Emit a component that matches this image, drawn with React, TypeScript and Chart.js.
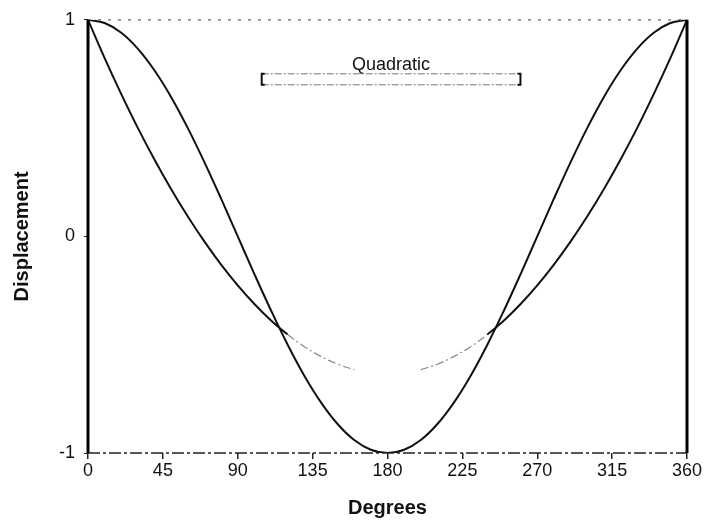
import React, { useEffect, useRef } from "react";
import { Chart, registerables } from "chart.js";

Chart.register(...registerables);

// ---- Data ----
const degrees = [
  0, 10, 20, 30, 40, 50, 60, 70, 80, 90, 100, 110, 120, 130, 140, 150, 160, 170, 180,
  190, 200, 210, 220, 230, 240, 250, 260, 270, 280, 290, 300, 310, 320, 330, 340, 350, 360,
];
const cosineValues = [
  1, 0.985, 0.94, 0.866, 0.766, 0.643, 0.5, 0.342, 0.174, 0, -0.174, -0.342, -0.5, -0.643, -0.766, -0.866, -0.94, -0.985, -1,
  -0.985, -0.94, -0.866, -0.766, -0.643, -0.5, -0.342, -0.174, 0, 0.174, 0.342, 0.5, 0.643, 0.766, 0.866, 0.94, 0.985, 1,
];
const quadraticValues: (number | null)[] = [
  1, 0.823, 0.657, 0.5, 0.354, 0.218, 0.092, -0.024, -0.13, -0.226, -0.312, -0.388, -0.453, -0.509, -0.554, -0.59, -0.615, null, null,
  null, -0.615, -0.59, -0.554, -0.509, -0.453, -0.388, -0.312, -0.226, -0.13, -0.024, 0.092, 0.218, 0.354, 0.5, 0.657, 0.823, 1,
];
const xTicks = [0, 45, 90, 135, 180, 225, 270, 315, 360];
const yTicks = [-1, 0, 1];
const legendLabel = "Quadratic";
const xTitle = "Degrees";
const yTitle = "Displacement";

const FONT = '"Liberation Sans", Arial, Helvetica, sans-serif';

const framePlugin = {
  id: "frame",
  afterDatasetsDraw(chart: any) {
    const { ctx, chartArea } = chart;
    const { left, right, top, bottom } = chartArea;
    const w = right - left;
    ctx.save();
    // top dotted border
    ctx.strokeStyle = "#666";
    ctx.lineWidth = 1.2;
    ctx.setLineDash([3, 7]);
    ctx.beginPath();
    ctx.moveTo(left, top);
    ctx.lineTo(right, top);
    ctx.stroke();
    // bottom dash-dot axis
    ctx.strokeStyle = "#222";
    ctx.lineWidth = 1.5;
    ctx.setLineDash([12, 3, 3, 3]);
    ctx.beginPath();
    ctx.moveTo(left, bottom);
    ctx.lineTo(right, bottom);
    ctx.stroke();
    // left / right thick borders
    ctx.setLineDash([]);
    ctx.strokeStyle = "#000";
    ctx.lineWidth = 3;
    ctx.beginPath();
    ctx.moveTo(left, top);
    ctx.lineTo(left, bottom);
    ctx.moveTo(right, top);
    ctx.lineTo(right, bottom);
    ctx.stroke();

    // legend-like label box
    const x0 = left + 0.29 * w;
    const x1 = left + 0.722 * w;
    const y0 = top + 54;
    const y1 = top + 65;
    ctx.fillStyle = "#111";
    ctx.font = `18px ${FONT}`;
    ctx.textAlign = "center";
    ctx.textBaseline = "middle";
    ctx.fillText(legendLabel, (x0 + x1) / 2, top + 45);
    ctx.strokeStyle = "#777";
    ctx.lineWidth = 1;
    ctx.setLineDash([7, 2, 2, 2]);
    ctx.beginPath();
    ctx.moveTo(x0, y0);
    ctx.lineTo(x1, y0);
    ctx.moveTo(x0, y1);
    ctx.lineTo(x1, y1);
    ctx.stroke();
    ctx.setLineDash([]);
    ctx.strokeStyle = "#111";
    ctx.lineWidth = 2;
    ctx.beginPath();
    ctx.moveTo(x0 + 3, y0);
    ctx.lineTo(x0, y0);
    ctx.lineTo(x0, y1);
    ctx.lineTo(x0 + 3, y1);
    ctx.moveTo(x1 - 3, y0);
    ctx.lineTo(x1, y0);
    ctx.lineTo(x1, y1);
    ctx.lineTo(x1 - 3, y1);
    ctx.stroke();
    ctx.restore();
  },
};

export default function App() {
  const canvasRef = useRef<HTMLCanvasElement | null>(null);

  useEffect(() => {
    document.body.style.margin = "0";
    const canvas = canvasRef.current;
    if (!canvas) return;

    const cosData = degrees.map((d, i) => ({ x: d, y: cosineValues[i] }));
    const quadData = degrees.map((d, i) => ({ x: d, y: quadraticValues[i] }));

    const inLowerBand = (c: any) => c.p0.parsed.x >= 115 && c.p1.parsed.x <= 245;

    const chart = new Chart(canvas, {
      type: "scatter",
      data: {
        datasets: [
          {
            label: "Cosine",
            data: cosData,
            showLine: true,
            borderColor: "#111",
            borderWidth: 2,
            pointRadius: 0,
            tension: 0.4,
          } as any,
          {
            label: legendLabel,
            data: quadData,
            showLine: true,
            spanGaps: false,
            borderColor: "#111",
            borderWidth: 2,
            pointRadius: 0,
            tension: 0.4,
            segment: {
              borderColor: (c: any) => (inLowerBand(c) ? "#888" : undefined),
              borderDash: (c: any) => (inLowerBand(c) ? [8, 3, 2, 3] : undefined),
              borderWidth: (c: any) => (inLowerBand(c) ? 1.2 : undefined),
            },
          } as any,
        ],
      },
      options: {
        responsive: false,
        animation: false,
        layout: { padding: { top: 18, right: 21, left: 0, bottom: 0 } },
        plugins: {
          legend: { display: false },
          tooltip: { enabled: false },
          title: { display: false },
        },
        scales: {
          x: {
            type: "linear",
            min: 0,
            max: 360,
            afterBuildTicks: (scale: any) => {
              scale.ticks = xTicks.map((v) => ({ value: v }));
            },
            afterFit: (scale: any) => {
              scale.height = 70;
            },
            ticks: {
              color: "#111",
              padding: 1,
              font: { size: 18, family: FONT },
              maxRotation: 0,
              autoSkip: false,
            },
            grid: {
              drawOnChartArea: false,
              drawTicks: true,
              tickLength: 6,
              color: "#222",
              lineWidth: 1.5,
            },
            border: { display: false },
            title: {
              display: true,
              text: xTitle,
              color: "#111",
              font: { size: 20, weight: "bold", family: FONT },
              padding: { top: 0, bottom: 3 },
            },
          },
          y: {
            type: "linear",
            min: -1,
            max: 1,
            afterBuildTicks: (scale: any) => {
              scale.ticks = yTicks.map((v) => ({ value: v }));
            },
            afterFit: (scale: any) => {
              scale.width = 88;
            },
            ticks: {
              color: "#111",
              padding: 9,
              font: { size: 18, family: FONT },
            },
            grid: {
              drawOnChartArea: false,
              drawTicks: true,
              tickLength: 4,
              color: "#222",
            },
            border: { display: false },
            title: {
              display: true,
              text: yTitle,
              color: "#111",
              font: { size: 20, weight: "bold", family: FONT },
              padding: { top: 10, bottom: 0 },
            },
          },
        },
      },
      plugins: [framePlugin],
    });

    return () => {
      chart.destroy();
    };
  }, []);

  return (
    <div style={{ width: 708, height: 523, background: "#fff" }}>
      <canvas ref={canvasRef} width={708} height={523} style={{ display: "block" }} />
    </div>
  );
}
